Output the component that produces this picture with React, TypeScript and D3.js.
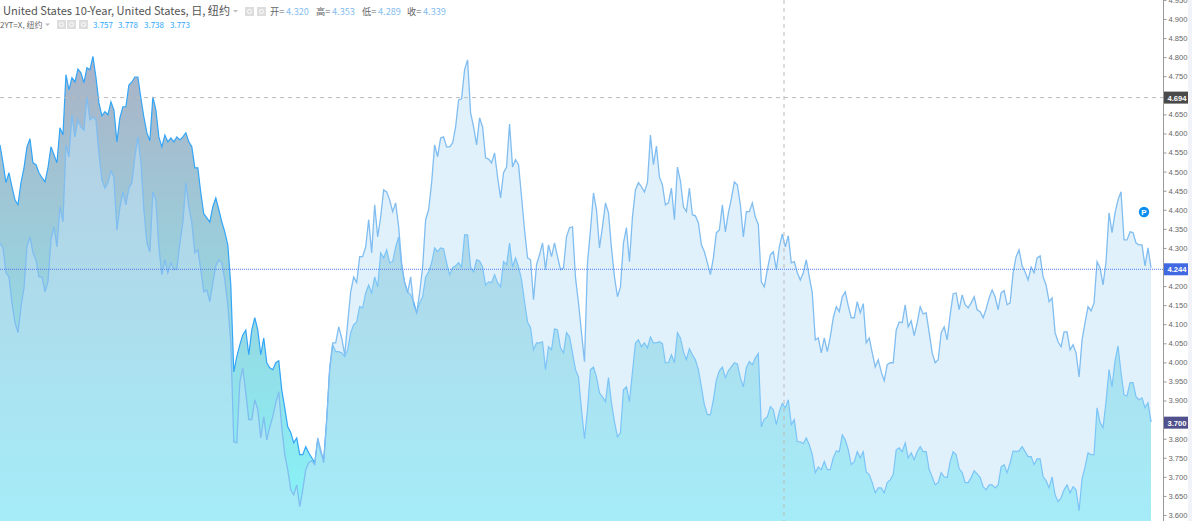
import * as d3 from 'd3'
import { useEffect, useRef } from 'react'

const WIDTH = 1192
const HEIGHT = 521

// 2YT=X, daily closes
const twoYear = [
  4.570, 4.523, 4.471, 4.497, 4.460, 4.426, 4.413, 4.471, 4.510, 4.565, 4.586, 4.523, 4.518, 4.497, 4.484, 4.473, 4.510, 4.565, 4.544, 4.523,
  4.615, 4.596, 4.754, 4.714, 4.746, 4.735, 4.769, 4.759, 4.733, 4.772, 4.767, 4.802, 4.748, 4.680, 4.646, 4.657, 4.649, 4.683, 4.662, 4.578,
  4.641, 4.670, 4.670, 4.727, 4.735, 4.748, 4.748, 4.693, 4.643, 4.602, 4.581, 4.696, 4.662, 4.591, 4.565, 4.596, 4.578, 4.588, 4.578, 4.591,
  4.583, 4.591, 4.602, 4.578, 4.565, 4.510, 4.510, 4.444, 4.389, 4.379, 4.368, 4.408, 4.431, 4.400, 4.368, 4.342, 4.308, 4.203, 3.975, 4.015,
  4.046, 4.072, 4.085, 4.020, 4.085, 4.117, 4.085, 4.020, 4.064, 3.999, 3.986, 3.981, 3.999, 4.004, 3.928, 3.881, 3.831, 3.816, 3.789, 3.802,
  3.758, 3.758, 3.779, 3.763, 3.750, 3.737, 3.797, 3.763, 3.745, 3.850, 3.981, 4.046, 4.028, 4.028, 4.025, 4.015, 4.033, 4.078, 4.099, 4.106,
  4.146, 4.143, 4.182, 4.203, 4.182, 4.224, 4.198, 4.287, 4.274, 4.295, 4.261, 4.264, 4.303, 4.329, 4.248, 4.209, 4.185, 4.177, 4.159, 4.130,
  4.156, 4.172, 4.224, 4.237, 4.261, 4.300, 4.290, 4.300, 4.298, 4.261, 4.230, 4.248, 4.253, 4.261, 4.250, 4.334, 4.334, 4.250, 4.237, 4.269,
  4.266, 4.250, 4.203, 4.211, 4.209, 4.230, 4.209, 4.198, 4.264, 4.256, 4.313, 4.250, 4.274, 4.250, 4.216, 4.159, 4.106, 4.091, 4.033, 4.051,
  4.051, 4.054, 3.981, 4.041, 4.033, 4.088, 4.085, 4.038, 4.025, 4.078, 4.067, 4.025, 3.981, 3.962, 3.876, 3.800, 3.876, 3.981, 3.988, 3.962,
  3.920, 3.910, 3.897, 3.960, 3.894, 3.844, 3.805, 3.816, 3.928, 3.936, 3.897, 3.975, 4.051, 4.059, 4.041, 4.051, 4.038, 4.067, 4.051, 4.051,
  4.054, 4.049, 3.999, 3.999, 4.020, 3.999, 4.078, 4.064, 4.028, 4.007, 4.036, 4.020, 4.007, 3.981, 3.936, 3.889, 3.863, 3.863, 3.902, 3.954,
  3.978, 3.988, 3.960, 3.978, 3.988, 3.999, 3.996, 3.960, 3.936, 3.986, 4.002, 3.994, 4.012, 4.023, 3.831, 3.852, 3.857, 3.884, 3.876, 3.837,
  3.871, 3.892, 3.881, 3.902, 3.837, 3.850, 3.792, 3.792, 3.787, 3.802, 3.784, 3.758, 3.711, 3.726, 3.719, 3.740, 3.719, 3.719, 3.750, 3.768,
  3.766, 3.810, 3.797, 3.771, 3.732, 3.740, 3.766, 3.750, 3.766, 3.713, 3.706, 3.685, 3.658, 3.671, 3.671, 3.658, 3.685, 3.692, 3.706, 3.771,
  3.776, 3.766, 3.789, 3.750, 3.763, 3.745, 3.766, 3.779, 3.766, 3.766, 3.719, 3.700, 3.679, 3.685, 3.711, 3.700, 3.698, 3.740, 3.766, 3.758,
  3.721, 3.711, 3.685, 3.685, 3.698, 3.716, 3.708, 3.698, 3.674, 3.666, 3.679, 3.679, 3.671, 3.679, 3.726, 3.732, 3.711, 3.737, 3.768, 3.766,
  3.768, 3.779, 3.766, 3.753, 3.753, 3.732, 3.747, 3.747, 3.700, 3.690, 3.671, 3.700, 3.653, 3.635, 3.645, 3.666, 3.679, 3.658, 3.674, 3.666,
  3.611, 3.695, 3.726, 3.763, 3.758, 3.758, 3.881, 3.842, 3.829, 3.897, 3.981, 3.936, 4.004, 4.043, 3.973, 3.915, 3.912, 3.947, 3.947, 3.910,
  3.902, 3.907, 3.881, 3.894, 3.844,
]

// United States 10-Year, daily closes
const tenYear = [
  4.313, 4.300, 4.235, 4.224, 4.156, 4.104, 4.078, 4.146, 4.195, 4.303, 4.329, 4.287, 4.269, 4.224, 4.224, 4.185, 4.211, 4.321, 4.355, 4.303,
  4.408, 4.368, 4.570, 4.539, 4.649, 4.591, 4.636, 4.617, 4.609, 4.696, 4.636, 4.643, 4.636, 4.549, 4.478, 4.457, 4.471, 4.502, 4.486, 4.347,
  4.405, 4.447, 4.413, 4.457, 4.471, 4.539, 4.591, 4.526, 4.400, 4.313, 4.290, 4.447, 4.426, 4.303, 4.230, 4.269, 4.235, 4.261, 4.243, 4.245,
  4.313, 4.366, 4.471, 4.408, 4.366, 4.287, 4.295, 4.243, 4.185, 4.190, 4.159, 4.209, 4.253, 4.269, 4.261, 4.216, 4.151, 4.051, 3.792, 3.789,
  3.947, 3.986, 3.920, 3.850, 3.850, 3.902, 3.876, 3.802, 3.857, 3.797, 3.831, 3.857, 3.894, 3.923, 3.831, 3.758, 3.719, 3.666, 3.653, 3.679,
  3.622, 3.666, 3.719, 3.737, 3.742, 3.732, 3.802, 3.771, 3.737, 3.850, 3.986, 4.051, 4.051, 4.093, 4.064, 4.020, 4.104, 4.185, 4.224, 4.209,
  4.277, 4.277, 4.303, 4.374, 4.287, 4.413, 4.329, 4.381, 4.452, 4.447, 4.426, 4.395, 4.418, 4.355, 4.261, 4.209, 4.182, 4.224, 4.151, 4.130,
  4.182, 4.250, 4.374, 4.400, 4.471, 4.570, 4.539, 4.588, 4.591, 4.565, 4.565, 4.575, 4.617, 4.688, 4.691, 4.767, 4.793, 4.654, 4.617, 4.570,
  4.641, 4.617, 4.536, 4.533, 4.523, 4.549, 4.486, 4.431, 4.497, 4.512, 4.625, 4.512, 4.531, 4.518, 4.434, 4.347, 4.274, 4.269, 4.164, 4.256,
  4.282, 4.313, 4.243, 4.308, 4.277, 4.313, 4.277, 4.243, 4.248, 4.329, 4.353, 4.355, 4.222, 4.156, 4.078, 4.002, 4.261, 4.347, 4.444, 4.400,
  4.300, 4.355, 4.418, 4.392, 4.300, 4.224, 4.172, 4.198, 4.313, 4.353, 4.264, 4.381, 4.452, 4.471, 4.460, 4.447, 4.471, 4.596, 4.518, 4.567,
  4.486, 4.465, 4.413, 4.418, 4.457, 4.374, 4.512, 4.476, 4.408, 4.395, 4.457, 4.387, 4.384, 4.366, 4.308, 4.290, 4.261, 4.230, 4.274, 4.340,
  4.347, 4.413, 4.342, 4.392, 4.429, 4.473, 4.465, 4.413, 4.329, 4.395, 4.395, 4.418, 4.381, 4.361, 4.211, 4.198, 4.243, 4.282, 4.290, 4.243,
  4.303, 4.337, 4.303, 4.332, 4.261, 4.264, 4.235, 4.216, 4.235, 4.269, 4.224, 4.182, 4.059, 4.064, 4.025, 4.064, 4.028, 4.067, 4.117, 4.146,
  4.133, 4.172, 4.185, 4.148, 4.117, 4.117, 4.159, 4.130, 4.154, 4.051, 4.064, 4.025, 3.988, 4.007, 3.975, 3.952, 3.994, 3.999, 3.999, 4.085,
  4.106, 4.104, 4.151, 4.093, 4.109, 4.070, 4.104, 4.146, 4.127, 4.130, 4.078, 4.025, 3.999, 4.007, 4.078, 4.093, 4.059, 4.125, 4.180, 4.182,
  4.138, 4.177, 4.151, 4.143, 4.156, 4.172, 4.138, 4.133, 4.117, 4.140, 4.169, 4.190, 4.172, 4.138, 4.182, 4.188, 4.151, 4.156, 4.235, 4.277,
  4.295, 4.253, 4.237, 4.216, 4.250, 4.235, 4.274, 4.279, 4.224, 4.203, 4.159, 4.169, 4.078, 4.054, 4.041, 4.080, 4.080, 4.033, 4.046, 4.025,
  3.962, 4.059, 4.104, 4.146, 4.135, 4.156, 4.264, 4.248, 4.203, 4.264, 4.392, 4.340, 4.392, 4.426, 4.447, 4.321, 4.321, 4.342, 4.340, 4.313,
  4.308, 4.308, 4.253, 4.300, 4.248,
]

const axisTicks = [
  4.95, 4.9, 4.85, 4.8, 4.75, 4.65, 4.6, 4.55, 4.5, 4.45, 4.4, 4.35, 4.3, 4.2, 4.15, 4.1,
  4.05, 4.0, 3.95, 3.9, 3.8, 3.75, 3.7, 3.65, 3.6,
]

const priceBadges = [
  { label: '4.694', value: 4.694, color: '#4a4a4a' },
  { label: '4.244', value: 4.244, color: '#4169e1' },
  { label: '3.700', value: 3.842, color: '#50508c' },
]

const ohlcLabels = ['开=', '高=', '低=', '收=']
const ohlcValues = ['4.320', '4.353', '4.289', '4.339']
const ohlcOffsets = [270, 316, 362, 407]
const secondValues = ['3.757', '3.778', '3.738', '3.773']
const secondOffsets = [93, 118, 144, 170]

export default function App() {
  const svgRef = useRef<SVGSVGElement | null>(null)

  useEffect(() => {
    if (!svgRef.current)
      return

    const svg = d3.select(svgRef.current)
    svg.selectAll('*').remove()

    const x = d3.scaleLinear().domain([0, tenYear.length - 1]).range([0, 1151])
    const y = d3.scaleLinear().domain([3.6, 4.9]).range([515, 19])

    const defs = svg.append('defs')
    const grad = defs.append('linearGradient')
      .attr('id', 'twoYearFill')
      .attr('gradientUnits', 'userSpaceOnUse')
      .attr('x1', 0).attr('x2', 0).attr('y1', 57).attr('y2', 515)
    grad.append('stop').attr('offset', 0).attr('stop-color', '#aab2c6')
    grad.append('stop').attr('offset', 1).attr('stop-color', '#87f4f8')

    svg.append('rect').attr('x', 1188).attr('width', 4).attr('height', HEIGHT).attr('fill', '#f2f3f8')

    const area = d3.area<number>().x((_, i) => x(i)).y0(HEIGHT).y1(d => y(d))
    const line = d3.line<number>().x((_, i) => x(i)).y(d => y(d))

    // 2YT first, the 10-year fill goes over it and washes out its line
    svg.append('path').attr('d', area(twoYear)).attr('fill', 'url(#twoYearFill)')
    svg.append('path').attr('d', line(twoYear)).attr('fill', 'none').attr('stroke', '#33a5f7').attr('stroke-width', 1.2)
    svg.append('path').attr('d', area(tenYear)).attr('fill', 'rgb(195,227,247)').attr('fill-opacity', 0.5)
    svg.append('path').attr('d', line(tenYear)).attr('fill', 'none').attr('stroke', '#80bdf0').attr('stroke-width', 1.3)

    // crosshair and last price lines
    svg.append('line').attr('x1', 0).attr('x2', 1163).attr('y1', y(4.694)).attr('y2', y(4.694))
      .attr('stroke', '#bbb').attr('stroke-dasharray', '4 4')
    svg.append('line').attr('x1', 784).attr('x2', 784).attr('y1', 0).attr('y2', HEIGHT)
      .attr('stroke', '#bbb').attr('stroke-dasharray', '4 4')
    svg.append('line').attr('x1', 0).attr('x2', 1163).attr('y1', y(4.244)).attr('y2', y(4.244))
      .attr('stroke', '#4f7be8').attr('stroke-dasharray', '1 1')

    const axis = svg.append('g')
      .attr('transform', 'translate(1163.5,0)')
      .call(d3.axisRight(y).tickValues(axisTicks).tickFormat(d3.format('.3f')).tickSize(3).tickPadding(2))
    axis.select('.domain').attr('stroke', '#999').attr('d', `M0,0V${HEIGHT}`)
    axis.selectAll('.tick line').attr('stroke', '#999')
    axis.selectAll('.tick text')
      .attr('fill', '#666')
      .attr('font-family', 'Liberation Sans')
      .attr('font-size', 7.6)

    const badges = svg.append('g').selectAll('g').data(priceBadges).enter().append('g')
      .attr('transform', d => `translate(1164,${y(d.value)})`)
    badges.append('rect').attr('y', -6).attr('width', 24).attr('height', 12).attr('fill', d => d.color)
    badges.append('text')
      .text(d => d.label)
      .attr('x', 3.5).attr('y', 3)
      .attr('fill', '#fff')
      .attr('font-family', 'Liberation Sans')
      .attr('font-size', 7.6)
      .attr('font-weight', 'bold')

    // alert marker
    svg.append('circle').attr('cx', 1144).attr('cy', 212).attr('r', 5.2).attr('fill', '#0a8ff0')
    svg.append('text').text('P')
      .attr('x', 1144).attr('y', 215)
      .attr('text-anchor', 'middle')
      .attr('fill', '#fff')
      .attr('font-family', 'Liberation Sans')
      .attr('font-size', 8)
      .attr('font-weight', 'bold')

    // legend
    const legend = svg.append('g').attr('font-family', '"Noto Sans CJK SC", "Liberation Sans", sans-serif')
    legend.append('text').text('United States 10-Year, United States, 日, 纽约')
      .attr('x', 3).attr('y', 15).attr('font-size', 11.1).attr('fill', '#555')
    legend.append('path').attr('d', 'M233,10h5l-2.5,2.5z').attr('fill', '#bbb')
    legend.append('path').attr('d', 'M45,23.5h5l-2.5,2.5z').attr('fill', '#bbb')
    ;[245, 257, 57, 67, 79].forEach((px, i) => {
      const top = i < 2 ? 7 : 20
      legend.append('rect').attr('x', px).attr('y', top).attr('width', 9).attr('height', 9).attr('fill', '#ddd')
      legend.append('circle').attr('cx', px + 4.5).attr('cy', top + 4.5).attr('r', 2).attr('fill', 'none').attr('stroke', '#fff')
    })
    ohlcLabels.forEach((label, i) => {
      legend.append('text').text(label).attr('x', ohlcOffsets[i]).attr('y', 15).attr('font-size', 9.2).attr('fill', '#666')
      legend.append('text').text(ohlcValues[i]).attr('x', ohlcOffsets[i] + 16).attr('y', 15).attr('font-size', 9.2).attr('fill', '#85bdee')
    })
    legend.append('text').text('2YT=X, 纽约').attr('x', 0).attr('y', 27.5).attr('font-size', 8).attr('fill', '#666')
    secondValues.forEach((v, i) => {
      legend.append('text').text(v).attr('x', secondOffsets[i]).attr('y', 27.5).attr('font-size', 8).attr('fill', '#2aa6ff')
    })
  }, [])

  return (
    <svg
      ref={svgRef}
      width={WIDTH}
      height={HEIGHT}
      style={{ position: 'absolute', left: 0, top: 0, background: '#fff' }}
    />
  )
}
